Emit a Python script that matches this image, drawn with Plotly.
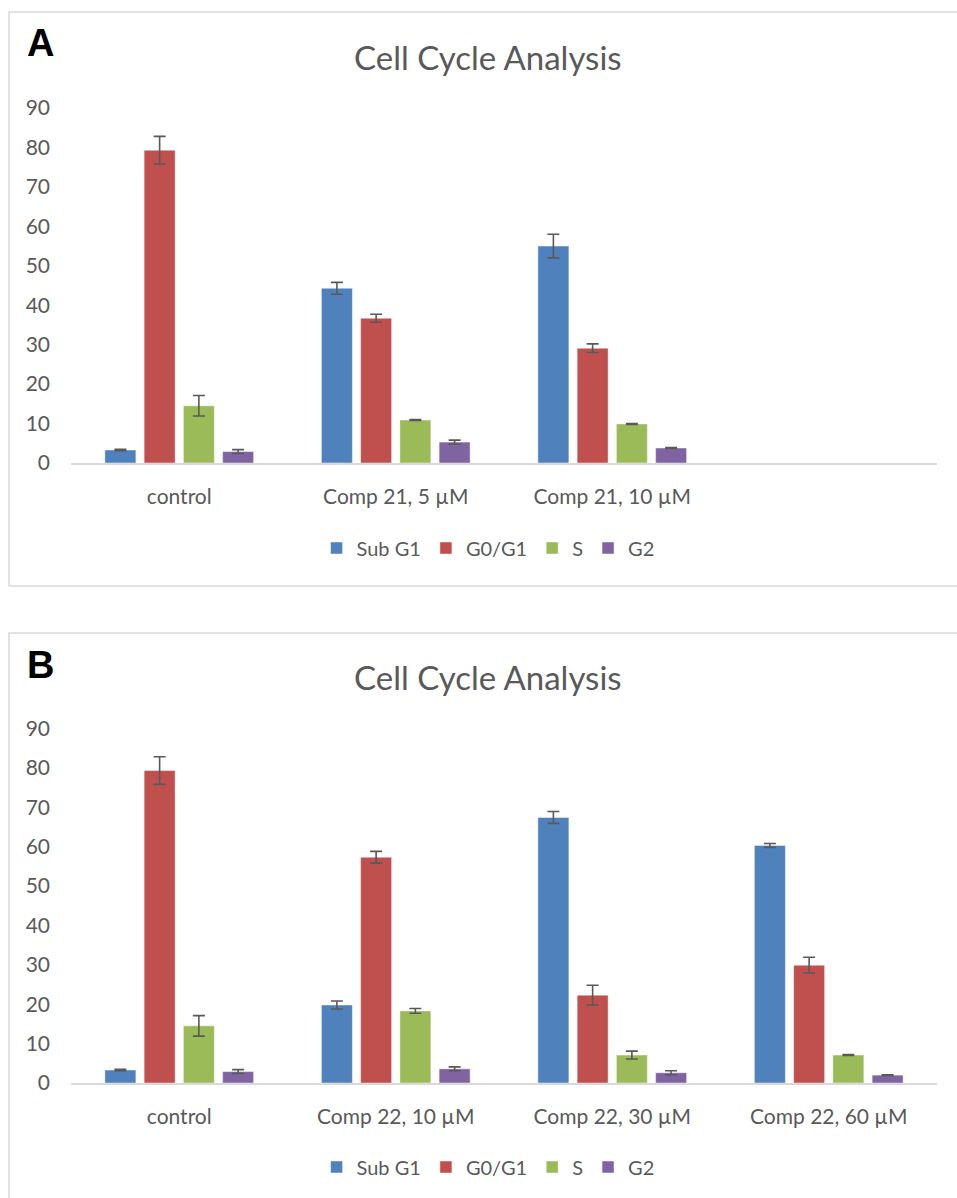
import plotly.graph_objects as go

# ---------------- data ----------------
series = ["Sub G1", "G0/G1", "S", "G2"]
colors = ["#4F81BD", "#C0504D", "#9BBB59", "#8064A2"]

cats_a = ["control", "Comp 21, 5 µM", "Comp 21, 10 µM"]
sub_g1_a = [3.3, 44.3, 55.0]
g0g1_a = [79.3, 36.7, 29.1]
s_a = [14.5, 10.9, 9.9]
g2_a = [2.9, 5.3, 3.8]
err_sub_g1_a = [0.2, 1.5, 3.0]
err_g0g1_a = [3.5, 1.0, 1.1]
err_s_a = [2.6, 0.1, 0.1]
err_g2_a = [0.5, 0.5, 0.1]

cats_b = ["control", "Comp 22, 10 µM", "Comp 22, 30 µM", "Comp 22, 60 µM"]
sub_g1_b = [3.3, 19.8, 67.4, 60.3]
g0g1_b = [79.3, 57.3, 22.3, 29.9]
s_b = [14.5, 18.3, 7.1, 7.1]
g2_b = [2.9, 3.6, 2.6, 2.0]
err_sub_g1_b = [0.2, 1.0, 1.5, 0.5]
err_g0g1_b = [3.5, 1.5, 2.5, 2.0]
err_s_b = [2.6, 0.6, 1.0, 0.1]
err_g2_b = [0.5, 0.5, 0.5, 0.1]

y_ticks = [0, 10, 20, 30, 40, 50, 60, 70, 80, 90]
title_text = "Cell Cycle Analysis"

# ---------------- figure ----------------
W, H = 957, 1198
def py(px):
    return 1 - px / H

TXT = "#595959"
FONT = "Lato"

fig = go.Figure()

vals_a = [sub_g1_a, g0g1_a, s_a, g2_a]
errs_a = [err_sub_g1_a, err_g0g1_a, err_s_a, err_g2_a]
vals_b = [sub_g1_b, g0g1_b, s_b, g2_b]
errs_b = [err_sub_g1_b, err_g0g1_b, err_s_b, err_g2_b]

for name, col, v, e in zip(series, colors, vals_a, errs_a):
    fig.add_trace(go.Bar(
        x=cats_a, y=v, name=name, marker_color=col,
        marker_line=dict(color="rgba(255,255,255,0.45)", width=1),
        error_y=dict(type="data", array=e, color="#595959", thickness=1.6, width=6),
        xaxis="x", yaxis="y", legend="legend"))

for name, col, v, e in zip(series, colors, vals_b, errs_b):
    fig.add_trace(go.Bar(
        x=cats_b, y=v, name=name, marker_color=col,
        marker_line=dict(color="rgba(255,255,255,0.45)", width=1),
        error_y=dict(type="data", array=e, color="#595959", thickness=1.6, width=6),
        xaxis="x2", yaxis="y2", legend="legend2"))

xdom = [71 / W, 937 / W]
xcommon = dict(type="category", range=[-0.5, 3.5], showline=True, linecolor="#d9d9d9",
               linewidth=1.5, showgrid=False, zeroline=False, ticks="",
               tickfont=dict(family=FONT, size=21, color=TXT), ticklabelstandoff=14,
               fixedrange=True, automargin=False)
ycommon = dict(range=[0, 90], tickvals=y_ticks, showgrid=False, zeroline=False,
               showline=False, ticks="", tickfont=dict(family=FONT, size=21, color=TXT),
               ticklabelstandoff=20, fixedrange=True, automargin=False)

legcommon = dict(orientation="h", xanchor="center", x=0.51, yanchor="middle",
                 font=dict(family=FONT, size=20, color=TXT), bgcolor="rgba(0,0,0,0)",
                 itemclick=False, itemdoubleclick=False, traceorder="normal")

fig.update_layout(
    width=W, height=H, margin=dict(l=0, r=0, t=0, b=0, autoexpand=False),
    paper_bgcolor="white", plot_bgcolor="white",
    barmode="group", bargap=0.275, bargroupgap=0.21,
    xaxis=dict(domain=xdom, anchor="y", **xcommon),
    yaxis=dict(domain=[py(463), py(108)], anchor="x", **ycommon),
    xaxis2=dict(domain=xdom, anchor="y2", **xcommon),
    yaxis2=dict(domain=[py(1083), py(728.4)], anchor="x2", **ycommon),
    legend=dict(y=py(548), **legcommon),
    legend2=dict(y=py(1167), **legcommon),
    showlegend=True,
)

# titles and panel letters
for letter, ty, ly in [("A", 57, 43), ("B", 677, 665)]:
    fig.add_annotation(text=title_text, xref="paper", yref="paper", x=488 / W, y=py(ty),
                       xanchor="center", yanchor="middle", showarrow=False,
                       font=dict(family=FONT, size=33, color=TXT))
    fig.add_annotation(text="<b>%s</b>" % letter, xref="paper", yref="paper", x=25 / W, y=py(ly),
                       xanchor="left", yanchor="middle", showarrow=False,
                       font=dict(family="Liberation Sans", size=38, color="black"))

# panel borders
fig.add_shape(type="rect", xref="paper", yref="paper", x0=9 / W, x1=962 / W,
              y0=py(586), y1=py(12), line=dict(color="#d9d9d9", width=1.5),
              fillcolor="rgba(0,0,0,0)", layer="below")
fig.add_shape(type="rect", xref="paper", yref="paper", x0=9 / W, x1=962 / W,
              y0=py(1205), y1=py(633), line=dict(color="#d9d9d9", width=1.5),
              fillcolor="rgba(0,0,0,0)", layer="below")

fig.write_html("out.html", config={"displayModeBar": False, "staticPlot": False},
               post_script="document.body.style.margin='0';document.body.style.overflow='hidden';")
